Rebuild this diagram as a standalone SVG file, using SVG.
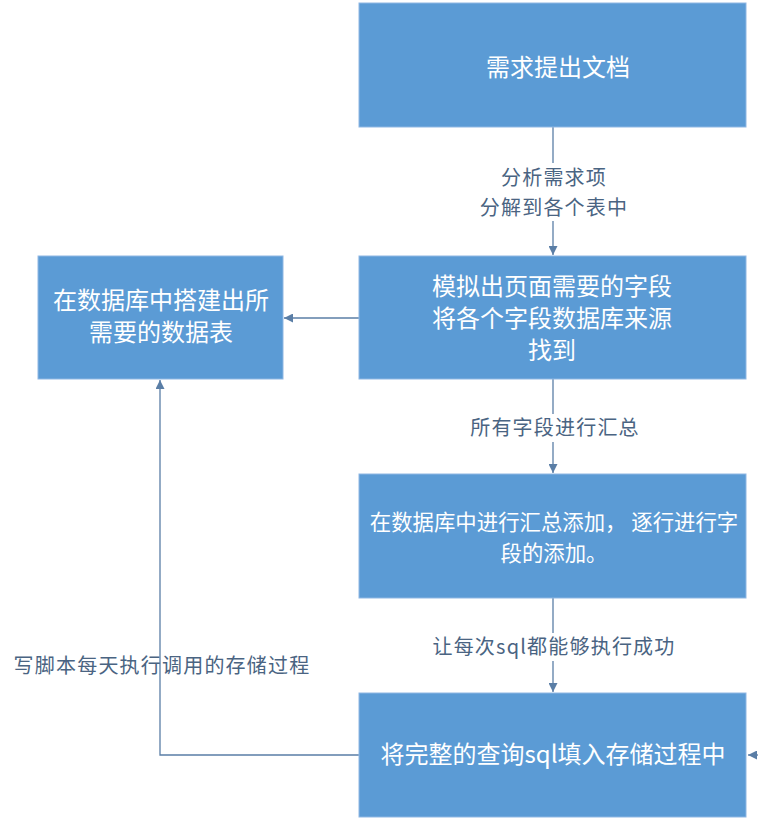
<svg xmlns="http://www.w3.org/2000/svg" width="758" height="825" viewBox="0 0 758 825">
<style>
.box{fill:#5B9BD5;stroke:#8FB7E3;stroke-width:1}
.bt{fill:#ffffff;font-family:"Microsoft YaHei","Noto Sans CJK SC",sans-serif;text-anchor:middle}
.lb{fill:#4A6482;font-family:"Microsoft YaHei","Noto Sans CJK SC",sans-serif;font-size:20px;letter-spacing:1.2px;text-anchor:middle}
.ln{fill:none;stroke:#5A7EA6;stroke-width:1.3}
</style>
<defs>
<marker id="ah" viewBox="0 0 10 10" refX="10" refY="5" markerWidth="9" markerHeight="9" markerUnits="userSpaceOnUse" orient="auto">
<path d="M0,0 L10,5 L0,10 z" fill="#5A7EA6"/>
</marker>
</defs>
<rect width="758" height="825" fill="#ffffff"/>
<g id="connectors">
<line class="ln" x1="553" y1="127" x2="553" y2="255" marker-end="url(#ah)"/>
<line class="ln" x1="359" y1="318" x2="284" y2="318" marker-end="url(#ah)"/>
<line class="ln" x1="553" y1="379" x2="553" y2="473" marker-end="url(#ah)"/>
<line class="ln" x1="553" y1="598" x2="553" y2="692" marker-end="url(#ah)"/>
<polyline class="ln" points="359,755 160,755 160,380" marker-end="url(#ah)"/>
<line class="ln" x1="760" y1="755" x2="748" y2="755" marker-end="url(#ah)"/>
</g>
<g id="label1">
<rect x="478" y="163" width="154" height="58" fill="#ffffff"/>
<text class="lb" x="554" y="185">分析需求项</text>
<text class="lb" x="554" y="215">分解到各个表中</text>
</g>
<g id="label2">
<rect x="466" y="414" width="178" height="28" fill="#ffffff"/>
<text class="lb" x="555" y="435">所有字段进行汇总</text>
</g>
<g id="label3">
<rect x="428" y="633" width="250" height="28" fill="#ffffff"/>
<text class="lb" x="554" y="654">让每次sql都能够执行成功</text>
</g>
<g id="label4">
<text class="lb" x="162" y="673">写脚本每天执行调用的存储过程</text>
</g>
<g id="n1">
<rect class="box" x="359" y="3" width="387" height="124"/>
<text class="bt" x="558" y="76" font-size="24">需求提出文档</text>
</g>
<g id="n2">
<rect class="box" x="359" y="256" width="387" height="123"/>
<text class="bt" x="552" y="295" font-size="24">模拟出页面需要的字段</text>
<text class="bt" x="552" y="327" font-size="24">将各个字段数据库来源</text>
<text class="bt" x="552" y="359" font-size="24">找到</text>
</g>
<g id="n3">
<rect class="box" x="38" y="256" width="245" height="123"/>
<text class="bt" x="161" y="309" font-size="24">在数据库中搭建出所</text>
<text class="bt" x="161" y="341" font-size="24">需要的数据表</text>
</g>
<g id="n4">
<rect class="box" x="359" y="474" width="387" height="124"/>
<text class="bt" x="554" y="530" font-size="21.4">在数据库中进行汇总添加， 逐行进行字</text>
<text class="bt" x="554" y="561" font-size="21.4">段的添加。</text>
</g>
<g id="n5">
<rect class="box" x="359" y="693" width="387" height="124"/>
<text class="bt" x="553" y="763" font-size="24">将完整的查询sql填入存储过程中</text>
</g>
</svg>
